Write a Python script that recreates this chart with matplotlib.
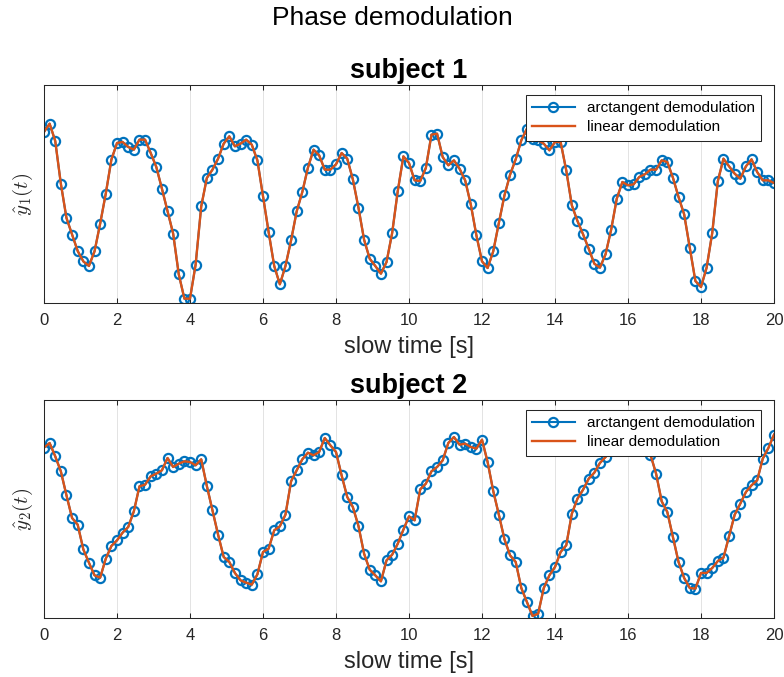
import numpy as np
import matplotlib
matplotlib.use("Agg")
import matplotlib.pyplot as plt

plt.rcParams['font.family'] = ['Liberation Sans', 'DejaVu Sans']
plt.rcParams['mathtext.fontset'] = 'cm'

# slow time axis, 131 samples over 20 s
t = np.arange(131) * 20 / 130

# subject 1 demodulated displacement (arbitrary units)
y1 = [51.3, 53.8, 48.6, 35.8, 25.5, 20.5, 15.6, 12.5, 11.1, 15.5,
      23.8, 32.8, 43.0, 48.0, 48.3, 46.8, 46.0, 49.0, 49.0, 45.0,
      40.8, 34.3, 27.5, 20.8, 8.6, 1.3, 1.3, 11.5, 29.0, 37.5,
      40.0, 43.3, 47.8, 50.0, 47.0, 47.8, 49.0, 47.5, 42.8, 32.0,
      21.3, 11.1, 5.6, 11.1, 18.8, 27.5, 33.3, 40.6, 46.0, 44.3,
      40.0, 40.0, 41.6, 45.0, 43.3, 37.1, 28.6, 19.0, 13.3, 11.1,
      8.8, 12.3, 21.0, 33.6, 44.0, 42.0, 36.8, 36.6, 40.5, 50.5,
      50.8, 43.8, 41.3, 42.8, 40.3, 36.8, 29.6, 20.3, 12.5, 10.5,
      15.5, 24.0, 32.3, 38.5, 43.1, 48.8, 52.3, 49.3, 48.8, 47.8,
      45.8, 48.3, 48.3, 39.8, 29.3, 24.6, 20.6, 16.3, 11.8, 10.6,
      14.6, 22.0, 31.3, 36.3, 35.3, 35.6, 37.8, 38.6, 40.0, 40.0,
      42.8, 42.3, 37.6, 31.8, 26.6, 16.6, 6.6, 4.8, 10.6, 21.0,
      36.6, 43.3, 41.0, 38.8, 37.3, 41.0, 43.1, 39.3, 36.8, 36.8,
      36.0]

# subject 2
y2 = [51.1, 52.5, 48.5, 44.0, 36.8, 30.0, 28.0, 20.6, 16.6, 12.8,
      12.1, 17.8, 21.6, 23.3, 25.6, 27.3, 32.0, 39.5, 40.0, 42.5,
      43.3, 44.3, 48.0, 45.3, 46.3, 47.0, 46.8, 45.8, 47.6, 39.6,
      32.3, 25.0, 18.3, 16.8, 13.5, 11.3, 10.6, 10.0, 13.1, 19.8,
      20.8, 26.3, 27.5, 31.0, 41.0, 44.3, 47.6, 49.6, 48.8, 49.8,
      54.0, 51.8, 49.8, 42.8, 36.3, 33.3, 27.6, 19.3, 14.5, 12.8,
      11.0, 17.3, 19.0, 22.3, 26.5, 30.5, 29.3, 38.6, 40.3, 44.0,
      45.3, 47.3, 52.5, 54.3, 52.0, 52.3, 51.3, 50.8, 53.5, 46.8,
      38.1, 31.0, 23.6, 18.8, 16.8, 9.0, 4.8, 0.6, 1.3, 9.0,
      12.8, 15.3, 19.8, 21.8, 31.3, 35.8, 38.5, 41.8, 43.6, 46.5,
      48.3, 50.3, 51.8, 52.8, 53.3, 52.8, 51.8, 50.3, 49.0, 43.3,
      35.0, 31.8, 24.3, 16.8, 12.0, 9.0, 8.8, 13.5, 13.5, 15.0,
      17.1, 18.1, 24.6, 31.0, 34.3, 37.8, 39.8, 41.3, 47.8, 51.0,
      55.0]

subjects = ['subject 1', 'subject 2']
ylabels = [r'$\hat{y}_1(t)$', r'$\hat{y}_2(t)$']
xticks = np.arange(0, 21, 2)

blue = (0, 0.447, 0.741)
orange = (0.851, 0.325, 0.098)
axcol = (0.15, 0.15, 0.15)

fig = plt.figure(figsize=(7.84, 6.77), dpi=100)
fig.text(0.5, 1 - 25 / 677, 'Phase demodulation', ha='center', va='baseline', fontsize=19)

W, H = 784, 677
boxes = [(44, 85, 774, 303), (44, 400, 774, 618)]

for k, y in enumerate([y1, y2]):
    x0, ytop, x1, ybot = boxes[k]
    ax = fig.add_axes([x0 / W, 1 - ybot / H, (x1 - x0) / W, (ybot - ytop) / H])
    ax.plot(t, y, '-o', color=blue, lw=1.5, ms=6.6, mew=1.6, mfc='none',
            label='arctangent demodulation')
    ax.plot(t, y, '-', color=orange, lw=1.7, label='linear demodulation')
    ax.set_xlim(0, 20)
    ax.set_ylim(0, 65.4)
    ax.set_xticks(xticks)
    ax.set_yticks([])
    ax.grid(axis='x', color=(0.87, 0.87, 0.87), lw=0.6)
    ax.set_axisbelow(True)
    for s in ax.spines.values():
        s.set_color(axcol)
        s.set_linewidth(0.75)
    ax.tick_params(axis='x', direction='in', top=True, length=3.6, width=0.75,
                   colors=axcol, labelcolor=(0.15, 0.15, 0.15), labelsize=12, pad=7)
    ax.set_title(subjects[k], fontsize=19.5, fontweight='bold', pad=5)
    ax.set_xlabel('slow time [s]', fontsize=17, color=(0.15, 0.15, 0.15), labelpad=6)
    ax.set_ylabel(ylabels[k], fontsize=15, color=(0.15, 0.15, 0.15))
    ax.yaxis.set_label_coords(-0.013, 0.5)
    leg = ax.legend(loc='upper right', bbox_to_anchor=(0.982, 0.954), borderaxespad=0,
                    fontsize=11, handlelength=2.8, handletextpad=0.8, borderpad=0.4,
                    labelspacing=0.35, fancybox=False, framealpha=1)
    leg.get_frame().set_edgecolor(axcol)
    leg.get_frame().set_linewidth(0.75)

fig.savefig('out.png', dpi=100)
